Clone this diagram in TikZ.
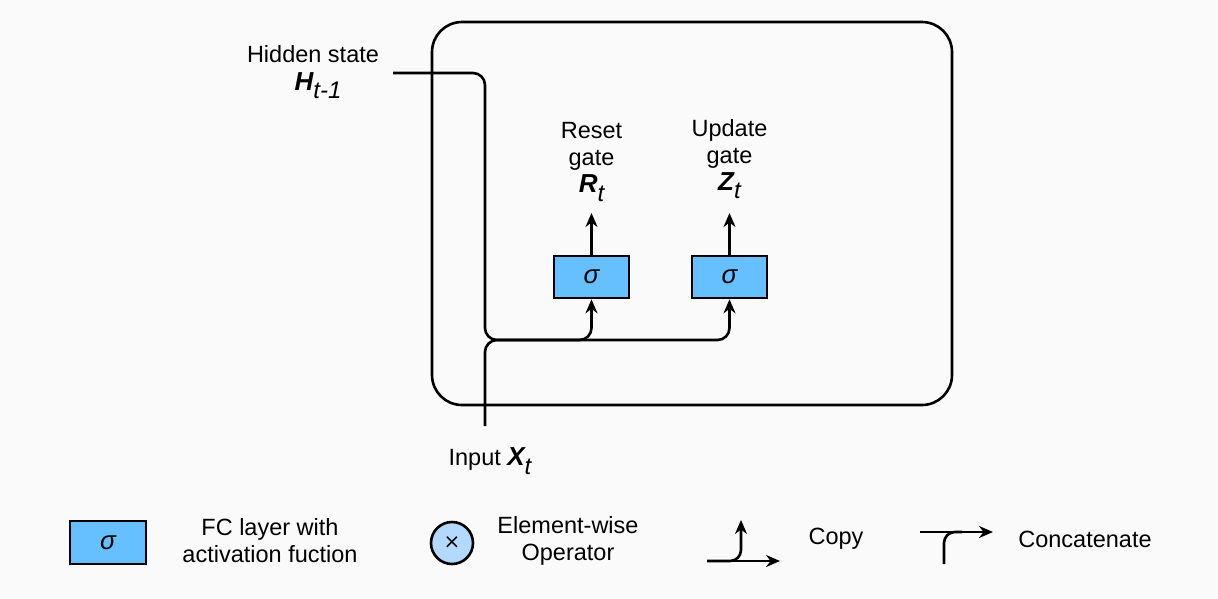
\documentclass[tikz,border=0pt]{standalone}
\usepackage{fontspec}
\setmainfont{Liberation Sans}
\newfontfamily\symfont{DejaVu Sans}
\usetikzlibrary{arrows.meta}
\definecolor{bgc}{HTML}{FAFAFA}
\definecolor{boxblue}{HTML}{66BFFF}
\definecolor{circblue}{HTML}{B3D9FF}
\newcommand\subs[1]{\raisebox{-0.36em}{\fontsize{24}{24}\selectfont\itshape #1}}
\newcommand\bv[1]{{\fontsize{26}{27}\selectfont\bfseries\itshape #1}}
\newcommand\sig{{\fontsize{26}{26}\selectfont\itshape σ}}
\begin{document}
\begin{tikzpicture}[x=1pt,y=-1pt,
  every node/.style={font=\fontsize{23.5}{27}\selectfont},
  ln/.style={line width=2.6pt,line cap=butt},
  arr/.style={ln,-{Stealth[length=14pt,width=12pt,inset=4.5pt]}},
  gatebox/.style={draw,line width=2.6pt,fill=boxblue,minimum width=75pt,minimum height=42pt,inner sep=0pt},
  txt/.style={align=center,inner sep=0pt},
  ]
\useasboundingbox[fill=bgc] (0,0) rectangle (1218,598);
% cell
\node[draw,line width=2.6pt,rounded corners=30pt,minimum width=520pt,minimum height=383pt,inner sep=0pt] (cell) at (692,213.5) {};
% gates
\node[gatebox] (rbox) at (591.5,277) {\sig};
\node[gatebox] (zbox) at (729.5,277) {\sig};
% labels
\node[txt] (rlab) at (591.5,162) {Reset\\gate\\\bv{R}\subs{t}};
\node[txt] (zlab) at (729.5,159) {Update\\gate\\\bv{Z}\subs{t}};
\coordinate (rtip) at (591.5,213);
\coordinate (ztip) at (729.5,213);
\draw[arr] (rbox.north) -- (rtip);
\draw[arr] (zbox.north) -- (ztip);
% inputs
\node[txt] (hlab) at (313,72) {Hidden state\\[1pt]\hspace*{10pt}\bv{H}\subs{t-1}};
\coordinate (hin) at (393,73);
\node[txt] (xlab) at (490,461) {Input \bv{X}\subs{t}};
\coordinate (xin) at (485,426);
\draw[arr,rounded corners=12pt] (hin) -- (485,73) -- (485,340) -- (591.5,340) -- (rbox.south);
\draw[arr,rounded corners=12pt] (xin) -- (485,340) -- (729.5,340) -- (zbox.south);
% legend
\node[gatebox,minimum width=76pt,minimum height=43pt] (lgbox) at (108,542.5) {\sig};
\node[txt] (lgboxt) at (270,541) {FC layer with\\activation fuction};
\node[draw,circle,line width=2.6pt,fill=circblue,minimum size=42pt,inner sep=0pt] (lgcirc) at (452,543) {\fontsize{20}{20}\selectfont\symfont ×};
\node[txt] (lgcirct) at (568,541) {Element-wise\\Operator};
\coordinate (cpa) at (707,561);
\coordinate (cpb) at (780,561);
\coordinate (cpc) at (741,520);
\draw[arr] (cpa) -- (cpb);
\draw[arr,rounded corners=11pt] (cpa) -- (741,561) -- (cpc);
\node[txt] (cpt) at (836,539) {Copy};
\coordinate (cca) at (920,532);
\coordinate (ccb) at (993,532);
\coordinate (ccc) at (944,564);
\draw[arr] (cca) -- (ccb);
\draw[ln,rounded corners=11pt] (ccc) -- (944,532) -- (962,532);
\node[txt] (cct) at (1085,539) {Concatenate};
\end{tikzpicture}
\end{document}
